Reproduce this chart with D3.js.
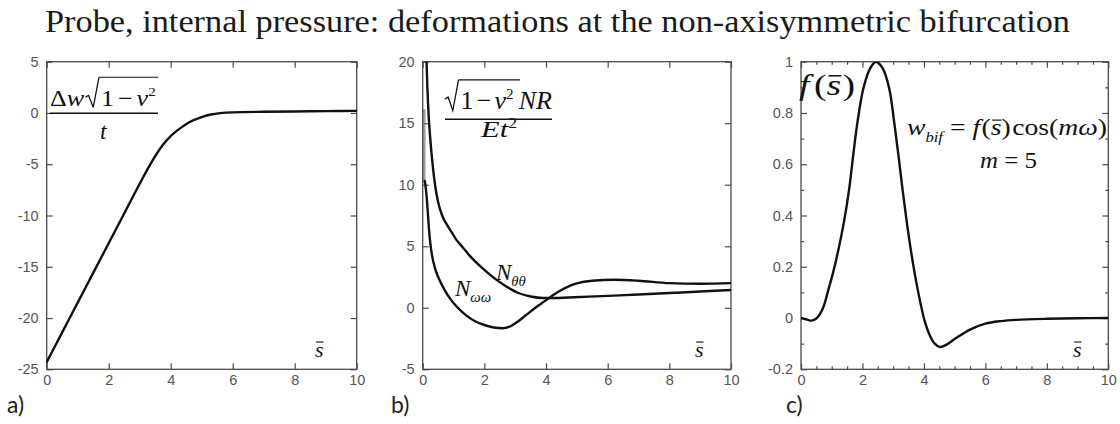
<!DOCTYPE html>
<html><head><meta charset="utf-8">
<script src="https://cdn.jsdelivr.net/npm/d3@7"></script>
<style>body{margin:0;background:#fff}svg{display:block}</style>
</head><body>
<svg id="chart" width="1120" height="424"></svg>
<script>
// ---------- data ----------
const titleText = "Probe, internal pressure: deformations at the non-axisymmetric bifurcation";
const xTicks = [0, 2, 4, 6, 8, 10];
const xMinorC = [0.5,1,1.5,2.5,3,3.5,4.5,5,5.5,6.5,7,7.5,8.5,9,9.5];
const yTicksA = [-25, -20, -15, -10, -5, 0, 5];
const yTicksB = [-5, 0, 5, 10, 15, 20];
const yTicksC = [-0.2, 0, 0.2, 0.4, 0.6, 0.8, 1];
const yMinorC = [-0.1, 0.1, 0.3, 0.5, 0.7, 0.9];

// panel a: Δw·sqrt(1-ν²)/t
const sA = [0,0.5,1,1.5,2,2.5,3,3.25,3.5,3.75,4,4.3,4.6,5,5.3,5.6,6,7,8,9,10];
const wA = [-24.3,-21.4,-18.5,-15.6,-12.7,-9.8,-6.9,-5.5,-4.2,-3.1,-2.25,-1.5,-0.9,-0.4,-0.15,-0.02,0.06,0.12,0.15,0.18,0.2];

// panel b: N_θθ and N_ωω
const sTheta = [0.12,0.15,0.2,0.25,0.3,0.4,0.5,0.63,0.8,0.95,1.1,1.27,1.5,1.9,2.3,2.7,3.1,3.5,3.9,4.4,4.9,6,7,8,9,10];
const nTheta = [20.5,18,15.3,13.6,12.2,10.0,8.6,7.5,6.7,6.1,5.5,5.0,4.3,3.3,2.45,1.75,1.2,0.92,0.8,0.8,0.85,0.97,1.08,1.2,1.32,1.45];
const sOmega = [0.07,0.13,0.17,0.2,0.25,0.3,0.4,0.52,0.7,0.9,1.1,1.4,1.7,2.0,2.3,2.6,2.85,3.1,3.35,3.6,3.85,4.1,4.4,4.7,5.0,5.5,6.2,7,8,9,10];
const nOmega = [10.3,9.0,7.6,6.5,5.2,4.3,3.2,2.4,1.5,0.7,0.1,-0.6,-1.1,-1.4,-1.6,-1.66,-1.5,-1.1,-0.6,-0.1,0.35,0.8,1.3,1.7,1.98,2.2,2.28,2.2,2.0,1.95,2.0];
const sSpike = [0.02,0.02,0.07,0.07];
const nSpike = [10.2,16.1,16.1,10.2];

// panel c: f(s)
const sC = [0,0.2,0.35,0.5,0.62,0.75,0.89,1.05,1.18,1.4,1.57,1.7,1.84,2.03,2.25,2.44,2.66,2.87,3.03,3.17,3.3,3.44,3.6,3.79,4.03,4.2,4.35,4.52,4.75,5,5.5,6,6.5,7,8,9,10];
const fC = [0,-0.006,-0.01,-0.002,0.016,0.05,0.11,0.18,0.246,0.376,0.506,0.636,0.766,0.896,0.974,1.0,0.974,0.896,0.766,0.636,0.506,0.376,0.246,0.116,-0.014,-0.07,-0.1,-0.113,-0.103,-0.082,-0.045,-0.022,-0.012,-0.007,-0.003,-0.001,0];

// ---------- drawing ----------
const svg = d3.select("#chart");
const SERIF = "'Liberation Serif','Times New Roman',serif";
const SANS = "'Liberation Sans',Arial,sans-serif";
const INK = "#111";
const FRAME = "#4a4a4a";
const TICKTXT = "#555";

svg.append("text").attr("x", 45).attr("y", 32)
  .attr("font-family", SERIF).attr("font-size", 31).attr("fill", "#1a1a1a")
  .attr("textLength", 1025).attr("lengthAdjust", "spacingAndGlyphs").text(titleText);

const plotTop = 61.7, plotBot = 369.3;
const panels = [
  {key:"a", left:46.7, right:356.7, yDom:[-25,5], yTicks:yTicksA, tag:"a)", tagX:7},
  {key:"b", left:422.7, right:731, yDom:[-5,20], yTicks:yTicksB, tag:"b)", tagX:391},
  {key:"c", left:801, right:1108.3, yDom:[-0.2,1], yTicks:yTicksC, tag:"c)", tagX:786, minor:true}
];

const P = {};
panels.forEach(p => {
  const x = d3.scaleLinear().domain([0,10]).range([p.left, p.right]);
  const y = d3.scaleLinear().domain(p.yDom).range([plotBot, plotTop]);
  const g = svg.append("g");
  P[p.key] = {x, y, g};

  g.append("clipPath").attr("id", "clip-" + p.key).append("rect")
    .attr("x", p.left).attr("y", plotTop).attr("width", p.right - p.left).attr("height", plotBot - plotTop);

  const styleAxis = sel => {
    sel.select(".domain").remove();
    sel.selectAll(".tick line").attr("stroke", FRAME).attr("stroke-width", 1.2);
    sel.selectAll(".tick text").attr("fill", TICKTXT).attr("font-family", SANS).attr("font-size", 14.5);
  };
  const fmt = d => String(d);
  g.append("g").attr("transform", `translate(0,${plotBot})`)
    .call(d3.axisBottom(x).tickValues(xTicks).tickFormat(fmt).tickSize(-6).tickPadding(5)).call(styleAxis);
  g.append("g").attr("transform", `translate(0,${plotTop})`)
    .call(d3.axisTop(x).tickValues(xTicks).tickFormat("").tickSize(-6)).call(styleAxis);
  g.append("g").attr("transform", `translate(${p.left},0)`)
    .call(d3.axisLeft(y).tickValues(p.yTicks).tickFormat(fmt).tickSize(-6).tickPadding(8)).call(styleAxis);
  g.append("g").attr("transform", `translate(${p.right},0)`)
    .call(d3.axisRight(y).tickValues(p.yTicks).tickFormat("").tickSize(-6)).call(styleAxis);
  if (p.minor) {
    g.append("g").attr("transform", `translate(0,${plotBot})`).call(d3.axisBottom(x).tickValues(xMinorC).tickFormat("").tickSize(-3)).call(styleAxis);
    g.append("g").attr("transform", `translate(0,${plotTop})`).call(d3.axisTop(x).tickValues(xMinorC).tickFormat("").tickSize(-3)).call(styleAxis);
    g.append("g").attr("transform", `translate(${p.left},0)`).call(d3.axisLeft(y).tickValues(yMinorC).tickFormat("").tickSize(-3)).call(styleAxis);
    g.append("g").attr("transform", `translate(${p.right},0)`).call(d3.axisRight(y).tickValues(yMinorC).tickFormat("").tickSize(-3)).call(styleAxis);
  }
  g.append("rect").attr("x", p.left).attr("y", plotTop).attr("width", p.right - p.left).attr("height", plotBot - plotTop)
    .attr("fill", "none").attr("stroke", FRAME).attr("stroke-width", 1.3);

  svg.append("text").attr("x", p.tagX).attr("y", 413).attr("font-family", "Lato,'Open Sans',sans-serif")
    .attr("font-size", 23).attr("fill", "#222").text(p.tag);
});

function drawCurve(key, xs, ys, opts = {}) {
  const {x, y, g} = P[key];
  const data = xs.map((s, i) => [s, ys[i]]);
  g.append("path").datum(data)
    .attr("clip-path", `url(#clip-${key})`)
    .attr("fill", "none").attr("stroke", opts.color || INK).attr("stroke-width", opts.width || 2.4)
    .attr("stroke-linejoin", "round").attr("stroke-linecap", "round")
    .attr("d", d3.line().x(d => x(d[0])).y(d => y(d[1])).curve(opts.curve || d3.curveMonotoneX));
}
drawCurve("a", sA, wA);
drawCurve("b", sSpike, nSpike, {color:"#777", width:1.1, curve:d3.curveLinear});
drawCurve("b", sTheta, nTheta);
drawCurve("b", sOmega, nOmega);
drawCurve("c", sC, fC, {curve: d3.curveCatmullRom.alpha(0.5)});

// ---------- math-like labels ----------
function mathText(x0, y0, fs, pieces, targetW) {
  const g = svg.append("g");
  let cx = x0, vStart = null, vEnd = null, radH = 0;
  pieces.forEach(p => {
    if (p.rad) {
      radH = p.rad * fs;
      g.append("path").attr("d",
        `M${cx},${y0 - 0.38*fs} L${cx + 0.12*fs},${y0 - 0.46*fs} L${cx + 0.3*fs},${y0 + 0.06*fs} L${cx + 0.52*fs},${y0 - radH}`)
        .attr("fill", "none").attr("stroke", INK).attr("stroke-width", fs * 0.05).attr("stroke-linejoin", "miter");
      vStart = cx + 0.52*fs; cx += 0.6*fs;
      return;
    }
    const size = fs * (p.sc || 1);
    const t = g.append("text").attr("x", cx).attr("y", y0 + (p.dy || 0) * fs)
      .attr("font-family", SERIF).attr("font-size", size)
      .attr("font-style", p.i ? "italic" : "normal").attr("fill", INK).text(p.t);
    const w = t.node().getComputedTextLength();
    if (p.bar) {
      g.append("line").attr("x1", cx + 0.05*size).attr("x2", cx + w).attr("y1", y0 - p.bar*fs).attr("y2", y0 - p.bar*fs)
        .attr("stroke", INK).attr("stroke-width", fs*0.05);
    }
    cx += w + (p.gap || 0) * fs;
    if (p.v) vEnd = cx;
  });
  if (vStart !== null && vEnd !== null) {
    g.append("line").attr("x1", vStart).attr("x2", vEnd + 0.05*fs).attr("y1", y0 - radH).attr("y2", y0 - radH)
      .attr("stroke", INK).attr("stroke-width", fs*0.05);
  }
  const w = cx - x0;
  if (targetW) g.attr("transform", `translate(${x0},0) scale(${targetW / w},1) translate(${-x0},0)`);
  return g;
}
function hline(x1, x2, yv, w) {
  svg.append("line").attr("x1", x1).attr("x2", x2).attr("y1", yv).attr("y2", yv).attr("stroke", INK).attr("stroke-width", w || 1.4);
}

// panel a label
mathText(50, 106, 23, [
  {t:"Δ"}, {t:"w", i:true, gap:0.05}, {rad:1.25}, {t:"1", gap:0.15, v:true}, {t:"−", gap:0.15, v:true},
  {t:"ν", i:true, v:true}, {t:"2", sc:0.58, dy:-0.42, gap:0.05, v:true}
], 107);
hline(50, 158, 113.2);
mathText(100, 139, 24, [{t:"t", i:true}]);

// panel b label
mathText(445, 109, 26, [
  {rad:1.12}, {t:"1", gap:0.12, v:true}, {t:"−", gap:0.12, v:true}, {t:"ν", i:true, v:true},
  {t:"2", sc:0.58, dy:-0.4, gap:0.2, v:true}, {t:"NR", i:true}
], 107);
hline(445, 552, 119.3);
mathText(481, 137, 24, [{t:"Et", i:true}, {t:"2", sc:0.58, dy:-0.36}], 36);
mathText(496, 280, 23, [{t:"N", i:true}, {t:"θθ", i:true, sc:0.64, dy:0.28}]);
mathText(455, 296, 23, [{t:"N", i:true}, {t:"ωω", i:true, sc:0.64, dy:0.28}]);

// panel c labels
mathText(799, 95, 30, [{t:"f", i:true, gap:0.12}, {t:"("}, {t:"s", i:true, bar:0.64, gap:0.03}, {t:")"}], 56);
mathText(907, 135, 24, [
  {t:"w", i:true}, {t:"bif", i:true, sc:0.6, dy:0.28, gap:0.25}, {t:"=", gap:0.25},
  {t:"f", i:true, gap:0.05}, {t:"("}, {t:"s", i:true, bar:0.62}, {t:")", gap:0.05}, {t:"cos("}, {t:"mω", i:true}, {t:")"}
], 200);
mathText(980, 168, 24, [{t:"m", i:true, gap:0.25}, {t:"=", gap:0.25}, {t:"5"}], 57);

// s-bar axis captions
[315, 695, 1073].forEach(xx => {
  mathText(xx, 357, 22, [{t:"s", i:true, bar:0.68}]);
});
</script>
</body></html>
